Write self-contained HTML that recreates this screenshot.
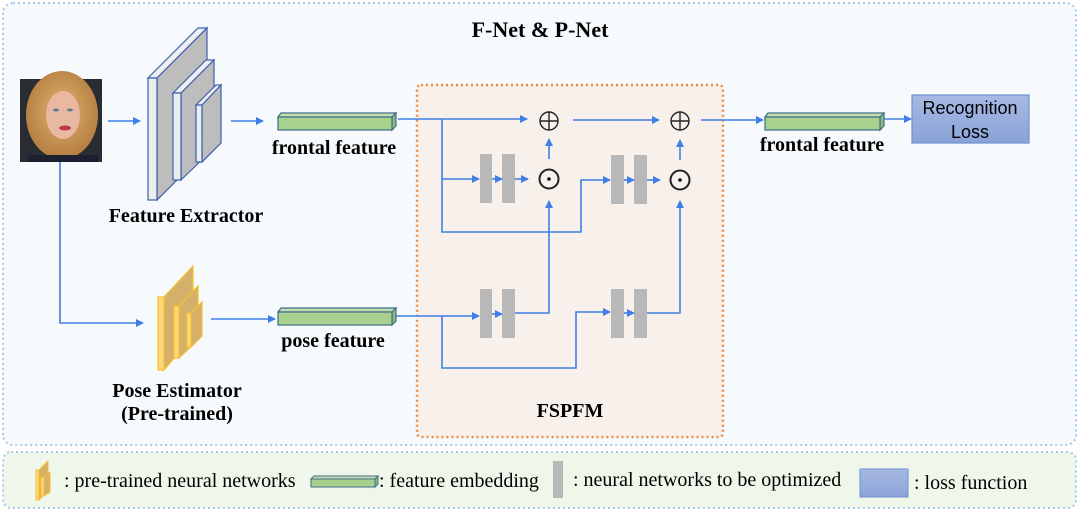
<!DOCTYPE html>
<html><head><meta charset="utf-8"><style>
html,body{margin:0;padding:0;background:#fff;}
svg{display:block;}
text{font-family:"Liberation Serif",serif;}
</style></head><body>
<svg width="1080" height="512" viewBox="0 0 1080 512" xmlns="http://www.w3.org/2000/svg">
<defs>
<marker id="a" markerWidth="8" markerHeight="8" refX="7" refY="4" orient="auto" markerUnits="userSpaceOnUse">
<path d="M0,0 L8,4 L0,8 z" fill="#3f7fe8"/></marker>
<linearGradient id="lg" x1="0" y1="0" x2="0" y2="1"><stop offset="0" stop-color="#a7b9e3"/><stop offset="1" stop-color="#8aa3d8"/></linearGradient>
<radialGradient id="hair" cx="0.5" cy="0.45" r="0.6"><stop offset="0" stop-color="#e0b070"/><stop offset="1" stop-color="#b07a3c"/></radialGradient>
</defs>
<rect x="3" y="3" width="1073" height="442" rx="10" fill="#f6fafd" stroke="#a9c8ea" stroke-width="2" stroke-dasharray="2,3"/>
<rect x="3" y="452" width="1073" height="56" rx="8" fill="#eff6ea" stroke="#a9c8ea" stroke-width="2" stroke-dasharray="2,3"/>
<text x="540" y="37" font-size="22" font-weight="bold" text-anchor="middle">F-Net &amp; P-Net</text>

<!-- photo -->
<rect x="20" y="79" width="82" height="83" fill="#2a2c33"/>
<ellipse cx="62" cy="115" rx="36" ry="44" fill="url(#hair)"/>
<ellipse cx="63" cy="115" rx="17" ry="24" fill="#e9b8a0"/>
<ellipse cx="56" cy="110" rx="3" ry="1.5" fill="#5a7a9a"/><ellipse cx="70" cy="110" rx="3" ry="1.5" fill="#5a7a9a"/>
<ellipse cx="65" cy="128" rx="6" ry="2.5" fill="#b83a4a"/>
<rect x="28" y="155" width="70" height="7" fill="#1d2030"/>

<g stroke="#3f7fe8" stroke-width="1.6" fill="none">
<line x1="108" y1="121" x2="140" y2="121" marker-end="url(#a)"/>
<line x1="231" y1="121" x2="263" y2="121" marker-end="url(#a)"/>
<polyline points="60,162 60,323 143,323" marker-end="url(#a)"/>
<line x1="211" y1="319" x2="275" y2="319" marker-end="url(#a)"/>
</g>

<!-- feature extractor -->
<g stroke="#3a5fb0" stroke-width="1.2">
<polygon points="148,78 198,28 207,28 157,78" fill="#f0f0f0"/>
<polygon points="157,78 207,28 207,150 157,200" fill="#bdbdbd"/>
<rect x="148" y="78" width="9" height="122" fill="#ececec"/>
<polygon points="173,93 206,60 214,60 181,93" fill="#f0f0f0"/>
<polygon points="181,93 214,60 214,148 181,180" fill="#bdbdbd"/>
<rect x="173" y="93" width="8" height="87" fill="#ececec"/>
<polygon points="196,105 216,85 221,85 202,105" fill="#f0f0f0"/>
<polygon points="202,105 221,85 221,143 202,162" fill="#bdbdbd"/>
<rect x="196" y="105" width="6" height="57" fill="#ececec"/>
</g>
<text x="186" y="222" font-size="20" font-weight="bold" text-anchor="middle">Feature Extractor</text>

<!-- pose estimator -->
<g stroke="#f5c030" stroke-width="1.2">
<polygon points="164,297 193,266 193,336 164,370" fill="#d4b06a"/>
<rect x="158" y="297" width="6" height="73" fill="#ffd77a"/>
<polygon points="179,306 198,286 198,340 179,358" fill="#d4b06a"/>
<rect x="174" y="306" width="5" height="52" fill="#ffd77a"/>
<polygon points="191,313 202,302 202,336 191,347" fill="#d4b06a"/>
<rect x="187" y="313" width="4" height="34" fill="#ffd77a"/>
</g>
<text x="177" y="397" font-size="20" font-weight="bold" text-anchor="middle">Pose Estimator</text>
<text x="177" y="420" font-size="20" font-weight="bold" text-anchor="middle">(Pre-trained)</text>

<!-- feature bars -->
<g stroke="#3f6f8a" stroke-width="1.2">
<polygon points="278,117 281,113 396,113 392,117" fill="#c4deb0"/>
<polygon points="392,117 396,113 396,126 392,130" fill="#8fb880"/>
<rect x="278" y="117" width="114" height="13" fill="#a9d18e"/>
<polygon points="278,312 281,308 396,308 392,312" fill="#c4deb0"/>
<polygon points="392,312 396,308 396,321 392,325" fill="#8fb880"/>
<rect x="278" y="312" width="114" height="13" fill="#a9d18e"/>
<polygon points="765,117 768,113 884,113 880,117" fill="#c4deb0"/>
<polygon points="880,117 884,113 884,126 880,130" fill="#8fb880"/>
<rect x="765" y="117" width="115" height="13" fill="#a9d18e"/>
</g>
<text x="334" y="154" font-size="20" font-weight="bold" text-anchor="middle">frontal feature</text>
<text x="333" y="347" font-size="20" font-weight="bold" text-anchor="middle">pose feature</text>
<text x="822" y="151" font-size="20" font-weight="bold" text-anchor="middle">frontal feature</text>

<!-- FSPFM -->
<rect x="417" y="85" width="306" height="352" rx="4" fill="#f8f0eb" stroke="#f08a3c" stroke-width="2.5" stroke-dasharray="2,3"/>
<text x="570" y="417" font-size="20" font-weight="bold" text-anchor="middle">FSPFM</text>

<g fill="#b8b8b8">
<rect x="480" y="154" width="12" height="49"/><rect x="502" y="154" width="13" height="49"/>
<rect x="611" y="155" width="13" height="49"/><rect x="634" y="155" width="13" height="49"/>
<rect x="480" y="289" width="12" height="49"/><rect x="502" y="289" width="13" height="49"/>
<rect x="611" y="289" width="13" height="49"/><rect x="634" y="289" width="13" height="49"/>
</g>

<g stroke="#3f7fe8" stroke-width="1.6" fill="none">
<line x1="398" y1="119" x2="527" y2="119" marker-end="url(#a)"/>
<line x1="573" y1="120" x2="659" y2="120" marker-end="url(#a)"/>
<line x1="701" y1="120" x2="763" y2="120" marker-end="url(#a)"/>
<line x1="884" y1="119" x2="911" y2="119" marker-end="url(#a)"/>
<polyline points="442,119 442,232 581,232 581,180 610,180" marker-end="url(#a)"/>
<line x1="442" y1="179" x2="479" y2="179" marker-end="url(#a)"/>
<line x1="492" y1="179" x2="502" y2="179" marker-end="url(#a)"/>
<line x1="515" y1="179" x2="528" y2="179" marker-end="url(#a)"/>
<line x1="624" y1="180" x2="634" y2="180" marker-end="url(#a)"/>
<line x1="647" y1="180" x2="660" y2="180" marker-end="url(#a)"/>
<line x1="549" y1="159" x2="549" y2="139" marker-end="url(#a)"/>
<line x1="680" y1="160" x2="680" y2="140" marker-end="url(#a)"/>
<line x1="396" y1="316" x2="479" y2="316" marker-end="url(#a)"/>
<polyline points="442,316 442,368 576,368 576,312 610,312" marker-end="url(#a)"/>
<line x1="492" y1="314" x2="502" y2="314" marker-end="url(#a)"/>
<line x1="624" y1="313" x2="634" y2="313" marker-end="url(#a)"/>
<polyline points="515,313 549,313 549,201" marker-end="url(#a)"/>
<polyline points="647,313 680,313 680,201" marker-end="url(#a)"/>
</g>

<g stroke="#222" stroke-width="1.4" fill="none">
<circle cx="549" cy="121" r="9"/><line x1="540" y1="121" x2="558" y2="121"/><line x1="549" y1="112" x2="549" y2="130"/>
<circle cx="680" cy="121" r="9"/><line x1="671" y1="121" x2="689" y2="121"/><line x1="680" y1="112" x2="680" y2="130"/>
<circle cx="549" cy="179" r="9.5" stroke-width="2"/><circle cx="680" cy="180" r="9.5" stroke-width="2"/>
</g>
<circle cx="549" cy="179" r="1.8" fill="#111"/><circle cx="680" cy="180" r="1.8" fill="#111"/>

<rect x="912" y="95" width="117" height="48" fill="url(#lg)" stroke="#7090cc" stroke-width="1.2"/>
<text x="970" y="114" font-size="18" text-anchor="middle" style="font-family:'Liberation Sans',sans-serif">Recognition</text>
<text x="970" y="138" font-size="18" text-anchor="middle" style="font-family:'Liberation Sans',sans-serif">Loss</text>

<!-- legend -->
<g stroke="#f5c030" stroke-width="1">
<polygon points="39,470 48,461 48,490 39,500" fill="#d4b06a"/>
<rect x="36" y="470" width="3" height="30" fill="#ffd77a"/>
<polygon points="44,477 50,472 50,492 44,496" fill="#d4b06a"/>
<rect x="41" y="477" width="3" height="19" fill="#ffd77a"/>
</g>
<text x="64" y="487" font-size="20">: pre-trained neural networks</text>
<g stroke="#3f6f8a" stroke-width="1">
<polygon points="311,479 314,476 378,476 375,479" fill="#c4deb0"/>
<rect x="311" y="479" width="64" height="8" fill="#a9d18e"/>
<polygon points="375,479 378,476 378,484 375,487" fill="#8fb880"/>
</g>
<text x="379" y="487" font-size="20">: feature embedding</text>
<rect x="553" y="461" width="10" height="37" fill="#b8b8b8"/>
<text x="573" y="486" font-size="20">: neural networks to be optimized</text>
<rect x="860" y="469" width="48" height="28" fill="url(#lg)" stroke="#7090cc" stroke-width="1"/>
<text x="914" y="489" font-size="20">: loss function</text>
</svg>
</body></html>
